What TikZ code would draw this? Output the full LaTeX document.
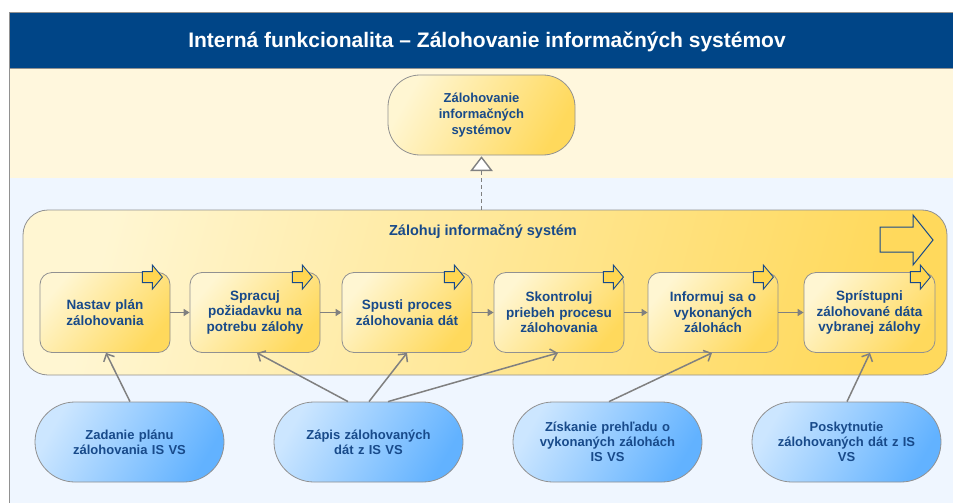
\documentclass[tikz,border=0pt]{standalone}
\usepackage{fontspec}
\setmainfont{Liberation Sans}
\usetikzlibrary{arrows.meta,calc}

\definecolor{hdr}{RGB}{0,69,135}
\definecolor{txt}{RGB}{24,74,138}
\definecolor{cream}{RGB}{255,247,221}
\definecolor{pblue}{RGB}{239,246,255}
\definecolor{ylA}{RGB}{255,246,210}
\definecolor{ylB}{RGB}{255,217,92}
\definecolor{blA}{RGB}{204,230,255}
\definecolor{blB}{RGB}{98,178,255}
\definecolor{edge}{RGB}{145,145,145}
\definecolor{lineg}{RGB}{128,128,128}
\definecolor{arrowY}{RGB}{255,214,80}

\tikzset{
  boxtext/.style={text=txt, font=\bfseries\fontsize{13.5}{15.5}\selectfont, align=center},
  procbox/.style={boxtext, draw=edge, line width=0.8pt, rounded corners=12pt,
    minimum width=130pt, minimum height=80pt, inner sep=0pt, text width=126pt,
    left color=ylA, right color=ylB, shading angle=50},
  usecase/.style={boxtext, font=\bfseries\fontsize{13}{15}\selectfont, draw=edge, line width=0.8pt, rounded corners=40pt,
    minimum width=189pt, minimum height=80pt, inner sep=0pt, text width=175pt,
    left color=blA, right color=blB, shading angle=60},
  flow/.style={draw=lineg, line width=1.5pt, -{Triangle[length=6pt,width=7pt]}},
  assoc/.style={draw=lineg, line width=1.5pt, -{Straight Barb[length=6pt,width=12pt,line width=1.5pt]}},
  smallarrow/.pic={\draw[draw=txt, fill=arrowY, line width=0.9pt, line join=miter]
     (-10,-5.5) -- (0,-5.5) -- (0,-12) -- (10,0) -- (0,12) -- (0,5.5) -- (-10,5.5) -- cycle;}
}

\begin{document}
\begin{tikzpicture}[x=1pt, y=-1pt]
\useasboundingbox (0,0) rectangle (953,503);
% backgrounds
\fill[white] (0,0) rectangle (953,503);
\fill[pblue] (9,178) rectangle (953,503);
\fill[cream] (9,68) rectangle (953,178);
\fill[hdr] (9,12) rectangle (953,68);
\draw[edge, line width=0.8pt] (953,12) -- (9,12) -- (9,503);
\draw[edge, line width=0.8pt] (9,68) -- (953,68);
\node[text=white, font=\bfseries\fontsize{21}{24}\selectfont] (title) at (487,42) {Interná funkcionalita – Zálohovanie informačných systémov};

% top use case
\node[boxtext, draw=edge, line width=0.8pt, rounded corners=32pt, minimum width=187pt,
  minimum height=80pt, inner sep=0pt, text width=150pt, left color=ylA, right color=ylB,
  font=\bfseries\fontsize{13}{16}\selectfont, shading angle=60] (top) at (481.5,115)
  {Zálohovanie\\informačných\\systémov};

% container
\node[draw=edge, line width=0.8pt, rounded corners=25pt, minimum width=924pt, minimum height=165pt,
  inner sep=0pt, left color=ylA, right color=ylB, shading angle=75] (cont) at (485,292.5) {};
\node[text=txt, font=\bfseries\fontsize{14.5}{17}\selectfont] (conttitle) at (483,232) {Zálohuj informačný systém};
\draw[draw=txt, line width=1pt, line join=miter] (880,227) -- (913,227) -- (913,215) -- (933,240) -- (913,265) -- (913,252) -- (880,252) -- cycle;

% dashed realization arrow with hollow triangle head
\coordinate (tiptop) at ([yshift=-2pt]top.south);
\coordinate (tipbase) at ([yshift=-15pt]top.south);
\draw[draw=lineg, line width=1.4pt, dash pattern=on 4pt off 3pt] (cont.north -| tiptop) -- (tipbase);
\draw[draw=lineg, fill=white, line width=1.4pt, line join=miter] (tiptop) -- ([xshift=10pt]tipbase) -- ([xshift=-10pt]tipbase) -- cycle;

% process steps
\node[procbox] (n1) at (105,312.5) {Nastav plán\\zálohovania};
\node[procbox] (n2) at (255,312.5) {Spracuj\\požiadavku na\\potrebu zálohy};
\node[procbox] (n3) at (407,312.5) {Spusti proces\\zálohovania dát};
\node[procbox] (n4) at (559,312.5) {Skontroluj\\priebeh procesu\\zálohovania};
\node[procbox] (n5) at (713,312.5) {Informuj sa o\\vykonaných\\zálohách};
\node[procbox, minimum width=131pt] (n6) at (869.5,312.5) {Sprístupni\\zálohované dáta\\vybranej zálohy};

\pic at ($(n1.north east)+(-18,5)$) {smallarrow};
\pic at ($(n2.north east)+(-18,5)$) {smallarrow};
\pic at ($(n3.north east)+(-18,5)$) {smallarrow};
\pic at ($(n4.north east)+(-11,5)$) {smallarrow};
\pic at ($(n5.north east)+(-15,5)$) {smallarrow};
\pic at ($(n6.north east)+(-15,5)$) {smallarrow};

\draw[flow] (n1) -- (n2);
\draw[flow] (n2) -- (n3);
\draw[flow] (n3) -- (n4);
\draw[flow] (n4) -- (n5);
\draw[flow] (n5) -- (n6);

% actors' use cases
\node[usecase] (z1) at (129.5,442) {Zadanie plánu\\zálohovania IS VS};
\node[usecase] (z2) at (368.5,442) {Zápis zálohovaných\\dát z IS VS};
\node[usecase] (z3) at (607.5,442) {Získanie prehľadu o\\vykonaných zálohách\\IS VS};
\node[usecase] (z4) at (846.5,442) {Poskytnutie\\zálohovaných dát z IS\\VS};

\draw[assoc] ([xshift=0.5pt]z1.north) -- ([xshift=1pt]n1.south);
\draw[assoc] ([xshift=-20.5pt]z2.north) -- ([xshift=2pt]n2.south);
\draw[assoc] ([xshift=0.5pt]z2.north) -- (n3.south);
\draw[assoc] ([xshift=19.5pt]z2.north) -- ([xshift=-1pt]n4.south);
\draw[assoc] ([xshift=1.5pt]z3.north) -- ([xshift=-1pt]n5.south);
\draw[assoc] ([xshift=0.5pt]z4.north) -- ([xshift=0.5pt]n6.south);
\end{tikzpicture}
\end{document}
